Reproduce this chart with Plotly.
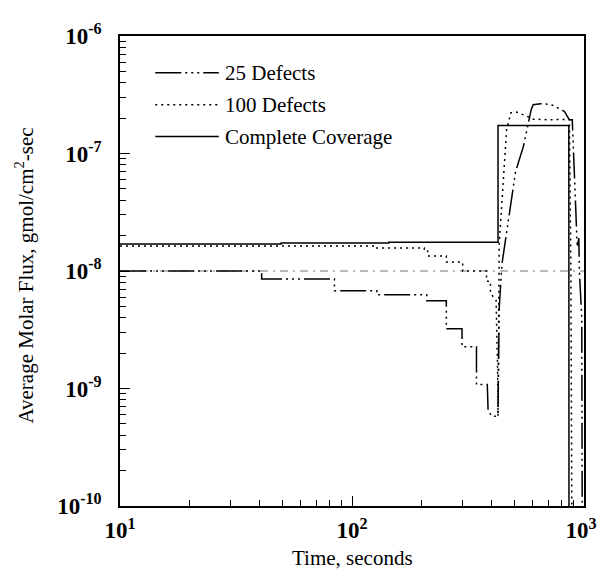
import plotly.graph_objects as go

# ---------------- data ----------------
# Complete Coverage (solid)
cc_t = [10, 49.5, 49.5, 144, 144, 426, 426, 860, 862]
cc_v = [1.70e-8, 1.70e-8, 1.73e-8, 1.73e-8, 1.76e-8, 1.76e-8, 1.73e-7, 1.73e-7, 1e-11]

# 100 Defects (dotted)
d100_t = [10, 128, 128, 205, 205, 212, 212, 255, 255, 300, 300, 380, 380, 395, 395,
          418, 424, 426, 431, 451, 464, 484, 512, 559, 604, 700, 800, 865, 878, 890]
d100_v = [1.63e-8, 1.63e-8, 1.57e-8, 1.57e-8, 1.48e-8, 1.48e-8, 1.34e-8, 1.34e-8,
          1.19e-8, 1.19e-8, 1.0e-8, 1.0e-8, 8.2e-9, 8.2e-9, 6.5e-9,
          5.6e-9, 1.5e-9, 5.8e-10, 1.69e-8, 7.3e-8, 1.6e-7, 2.22e-7, 2.25e-7, 2.10e-7,
          1.96e-7, 1.94e-7, 1.95e-7, 1.95e-7, 1e-8, 1e-11]

# 25 Defects (long dash + dots)
d25_t = [10, 40.8, 40.8, 84, 84, 128, 128, 210, 210, 255, 255, 298, 298, 344, 344,
         383, 386, 400, 415, 426, 431, 443, 507, 548, 592, 604, 650, 719, 769, 824,
         864, 890, 935, 950, 955, 978, 983]
d25_v = [1.0e-8, 1.0e-8, 8.55e-9, 8.55e-9, 6.78e-9, 6.78e-9, 6.27e-9, 6.27e-9,
         5.57e-9, 5.57e-9, 3.23e-9, 3.23e-9, 2.27e-9, 2.27e-9, 1.08e-9,
         1.08e-9, 6.5e-10, 5.8e-10, 5.8e-10, 6.1e-10, 4.8e-9, 1.15e-8, 7.0e-8, 1.15e-7,
         2.36e-7, 2.6e-7, 2.65e-7, 2.62e-7, 2.45e-7, 2.28e-7,
         1.94e-7, 1.94e-7, 1.6e-8, 1.9e-8, 1.0e-8, 4e-9, 5e-11]

# faint horizontal line at 1e-8
ref_t = [10, 1000]
ref_v = [1e-8, 1e-8]

x_tickvals = [10, 100, 1000]
x_ticktext = ["10<sup>1</sup>", "10<sup>2</sup>", "10<sup>3</sup>\u00a0"]
y_tickvals = [1e-10, 1e-9, 1e-8, 1e-7, 1e-6]
y_ticktext = ["10<sup>-10</sup>", "10<sup>-9</sup>", "10<sup>-8</sup>",
              "10<sup>-7</sup>", "10<sup>-6</sup>"]

legend_names = ["25 Defects", "100 Defects", "Complete Coverage"]

# ---------------- styles ----------------
FONT = "Liberation Serif"
DASHDOT = "26px,4px,2px,4px,2px,4px,2px,4px"
DOT = "2px,4px"

fig = go.Figure()
fig.add_trace(go.Scatter(x=ref_t, y=ref_v, mode="lines", showlegend=False,
                         line=dict(color="#666666", width=0.9, dash="8px,5px,2px,5px")))
fig.add_trace(go.Scatter(x=d25_t, y=d25_v, mode="lines", name=legend_names[0],
                         showlegend=False,
                         line=dict(color="black", width=1.5, dash=DASHDOT)))
fig.add_trace(go.Scatter(x=d100_t, y=d100_v, mode="lines", name=legend_names[1],
                         showlegend=False,
                         line=dict(color="black", width=1.5, dash=DOT)))
fig.add_trace(go.Scatter(x=cc_t, y=cc_v, mode="lines", name=legend_names[2],
                         showlegend=False,
                         line=dict(color="black", width=1.5)))

# manual legend (sample lines + labels) in paper coordinates
legend_y = [0.9216, 0.8538, 0.786]
legend_dash = [DASHDOT, DOT, "solid"]
for name, ly, dsh in zip(legend_names, legend_y, legend_dash):
    fig.add_shape(type="line", xref="paper", yref="paper",
                  x0=0.076, x1=0.213, y0=ly, y1=ly,
                  line=dict(color="black", width=1.5, dash=dsh))
    fig.add_annotation(xref="paper", yref="paper", x=0.222, y=ly, text=name,
                       showarrow=False, xanchor="left", yanchor="middle",
                       font=dict(family=FONT, size=21, color="black"))

# axis titles
fig.add_annotation(xref="paper", yref="paper", x=0.5, y=-0.111,
                   text="Time, seconds", showarrow=False,
                   xanchor="center", yanchor="middle",
                   font=dict(family=FONT, size=21, color="black"))
fig.add_annotation(xref="paper", yref="paper", x=-0.205, y=0.49,
                   text="Average Molar Flux, gmol/cm<sup>2</sup>-sec",
                   textangle=-90, showarrow=False,
                   xanchor="center", yanchor="middle",
                   font=dict(family=FONT, size=21, color="black"))

x_minor = [m * 10 ** e for e in (1, 2) for m in range(2, 10)]
y_minor = [m * 10.0 ** e for e in (-10, -9, -8, -7) for m in range(2, 10)]

axis_common = dict(
    showline=True, mirror=True, linecolor="black", linewidth=1.5,
    showgrid=False, zeroline=False,
    ticks="inside", ticklen=10, tickwidth=1.2, tickcolor="black",
    ticklabeloverflow="allow",
    tickfont=dict(family=FONT, size=23, color="black", weight="bold"),
)

fig.update_xaxes(type="log", range=[1, 3], tickvals=x_tickvals, ticktext=x_ticktext,
                 ticklabelstandoff=3,
                 minor=dict(tickvals=x_minor, ticks="inside", ticklen=6,
                            tickwidth=1, tickcolor="black", showgrid=False),
                 **axis_common)
fig.update_yaxes(type="log", range=[-10, -6], tickvals=y_tickvals, ticktext=y_ticktext,
                 ticklabelstandoff=12,
                 minor=dict(tickvals=y_minor, ticks="inside", ticklen=6,
                            tickwidth=1, tickcolor="black", showgrid=False),
                 **axis_common)

fig.update_layout(
    width=606, height=569,
    margin=dict(l=112, r=19, t=26, b=71),
    paper_bgcolor="white", plot_bgcolor="white",
    font=dict(family=FONT, color="black"),
)

fig.write_html("out.html")
